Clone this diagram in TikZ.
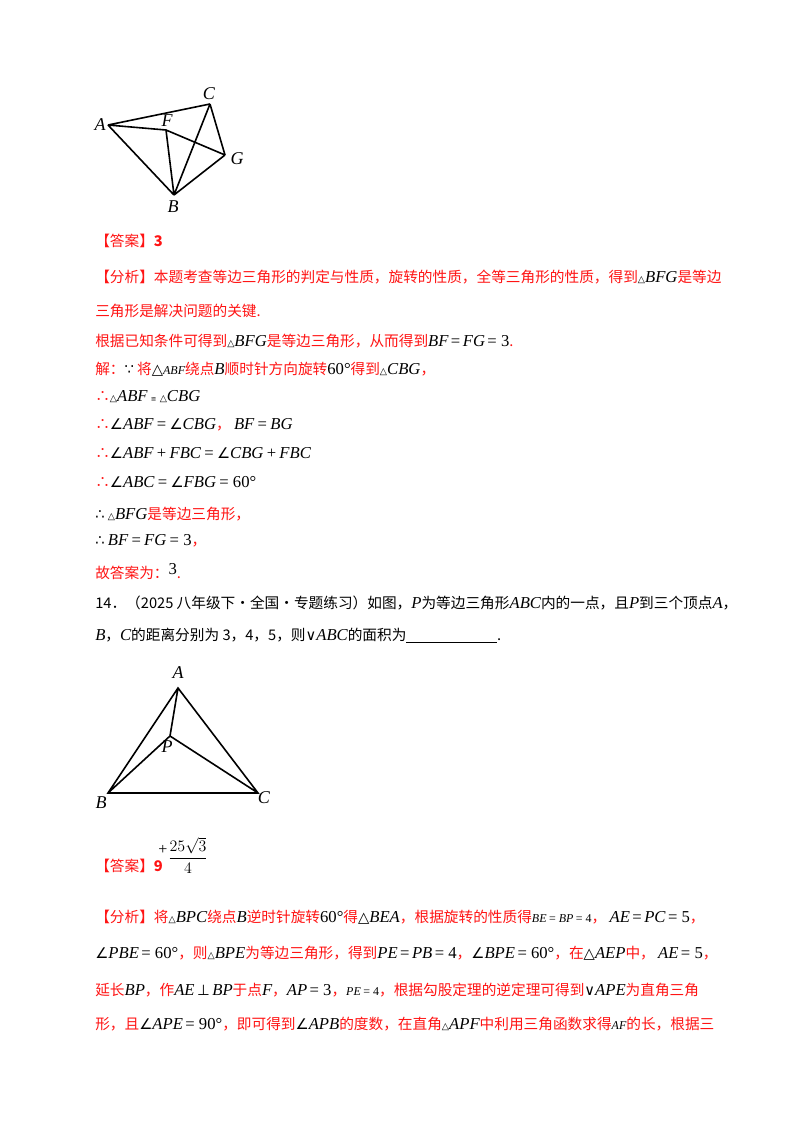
\documentclass[tikz,border=0pt]{standalone}
\usepackage{fontspec}
\setmainfont{Noto Sans CJK SC}
\newfontfamily\tm{Liberation Serif}
\newfontfamily\sy{DejaVu Sans}
\definecolor{rd}{RGB}{255,20,20}
\newcommand\mi[1]{{\color{black}\tm\itshape\fontsize{12.5pt}{15pt}\selectfont #1}}
\newcommand\mr[1]{{\color{black}\tm\fontsize{12.5pt}{15pt}\selectfont #1}}
\newcommand\sm[1]{{\color{black}\sy #1}}
\newcommand\tri{{\color{black}\sy\scriptsize △}}
\begin{document}
\begin{tikzpicture}[x=0.75pt,y=-0.75pt,
  ln/.style={anchor=west,inner sep=0pt,font=\fontsize{11pt}{14pt}\selectfont,text=rd},
  lb/.style={font=\tm\itshape\fontsize{13.5pt}{16pt}\selectfont,inner sep=0pt},
  seg/.style={line width=1.2pt,black}]
\useasboundingbox[fill=white] (0,0) rectangle (800,1132);
% figure 1
\coordinate (A) at (108,125); \coordinate (C) at (210,104); \coordinate (F) at (166,130);
\coordinate (G) at (225,155); \coordinate (B) at (174,195);
\draw[seg] (A)--(C) (A)--(B) (A)--(F)--(G) (F)--(B) (C)--(B) (C)--(G) (B)--(G);
\node[lb] (lA) at (100,125) {A}; \node[lb] (lC) at (209,94) {C}; \node[lb] (lF) at (167,121) {F};
\node[lb] (lG) at (237,159) {G}; \node[lb] (lB) at (173,207) {B};
% text
\node[ln] (t1) at (95,241) {【答案】\textbf{3}};
\node[ln] (t2) at (95,277) {【分析】本题考查等边三角形的判定与性质，旋转的性质，全等三角形的性质，得到\tri\mi{BFG}是等边};
\node[ln] (t3) at (95,311) {三角形是解决问题的关键.};
\node[ln] (t4) at (95,341) {根据已知条件可得到\tri\mi{BFG}是等边三角形，从而得到\mi{BF}\,\mr{=}\,\mi{FG}\,\mr{= 3}.};
\node[ln] (t5) at (95,369) {解：\sm{∵} 将\sm{△}\mi{\small ABF}绕点\mi{B}顺时针方向旋转\mr{60°}得到\tri\mi{CBG}，};
\node[ln] (t6) at (95,397) {∴\tri\mi{ABF} \sm{\tiny ≌} \tri\mi{CBG}};
\node[ln] (t7) at (95,425) {∴\sm{∠}\mi{ABF} \mr{=} \sm{∠}\mi{CBG}， \mi{BF} \mr{=} \mi{BG}};
\node[ln] (t8) at (95,453) {∴\sm{∠}\mi{ABF} \mr{+} \mi{FBC} \mr{=} \sm{∠}\mi{CBG} \mr{+} \mi{FBC}};
\node[ln] (t9) at (95,482) {∴\sm{∠}\mi{ABC} \mr{=} \sm{∠}\mi{FBG} \mr{= 60°}};
\node[ln] (t10) at (95,514) {\sm{∴} \tri\mi{BFG}是等边三角形，};
\node[ln] (t11) at (95,541) {\sm{∴} \mi{BF} \mr{=} \mi{FG} \mr{= 3}，};
\node[ln] (t12) at (95,572) {故答案为：\mr{\raisebox{3pt}{3}}.};
\node[ln,text=black] (t13) at (95,603) {14．（2025 八年级下·全国·专题练习）如图，\mi{P}为等边三角形\mi{ABC}内的一点，且\mi{P}到三个顶点\mi{A}，};
\node[ln,text=black] (t14) at (95,636) {\mi{B}，\mi{C}的距离分别为 3，4，5，则\sm{∨}\mi{ABC}的面积为\underline{\hspace{68pt}}.};
% figure 2
\coordinate (A2) at (178,688); \coordinate (B2) at (108,793); \coordinate (C2) at (258,793); \coordinate (P2) at (170,736);
\draw[seg] (A2)--(B2)--(C2)--cycle (P2)--(A2) (P2)--(B2) (P2)--(C2);
\node[lb] (la) at (178,673) {A}; \node[lb] (lp) at (167,747) {P};
\node[lb] (lb2) at (101,803) {B}; \node[lb] (lc) at (264,798) {C};
% answer 2
\node[ln] (t15) at (95,866) {【答案】\textbf{9}};
\node[inner sep=0pt,font=\tm\fontsize{12pt}{13pt}\selectfont] (pl) at (163,850) {+};
\node[inner sep=0pt,font=\fontsize{12pt}{13pt}\selectfont] (fr) at (188,855) {$\displaystyle\frac{25\sqrt{3}}{4}$};
\node[ln] (t16) at (95,917) {【分析】将\tri\mi{BPC}绕点\mi{B}逆时针旋转\mr{60°}得\sm{△}\mi{BEA}，根据旋转的性质得\mi{\small BE}\,\mr{\small = }\mi{\small BP}\,\mr{\small = 4}， \mi{AE}\,\mr{=}\,\mi{PC}\,\mr{= 5}，};
\node[ln] (t17) at (95,953) {\sm{∠}\mi{PBE}\,\mr{= 60°}，则\tri\mi{BPE}为等边三角形，得到\mi{PE}\,\mr{=}\,\mi{PB}\,\mr{= 4}，\sm{∠}\mi{BPE}\,\mr{= 60°}，在\sm{△}\mi{AEP}中， \mi{AE}\,\mr{= 5}，};
\node[ln] (t18) at (95,990) {延长\mi{BP}，作\mi{AE}\,\sm{⊥}\,\mi{BP}于点\mi{F}，\mi{AP}\,\mr{= 3}，\mi{\small PE}\,\mr{\small = 4}，根据勾股定理的逆定理可得到\sm{∨}\mi{APE}为直角三角};
\node[ln] (t19) at (95,1024) {形，且\sm{∠}\mi{APE}\,\mr{= 90°}，即可得到\sm{∠}\mi{APB}的度数，在直角\tri\mi{APF}中利用三角函数求得\mi{\small AF}的长，根据三};
\end{tikzpicture}
\end{document}
